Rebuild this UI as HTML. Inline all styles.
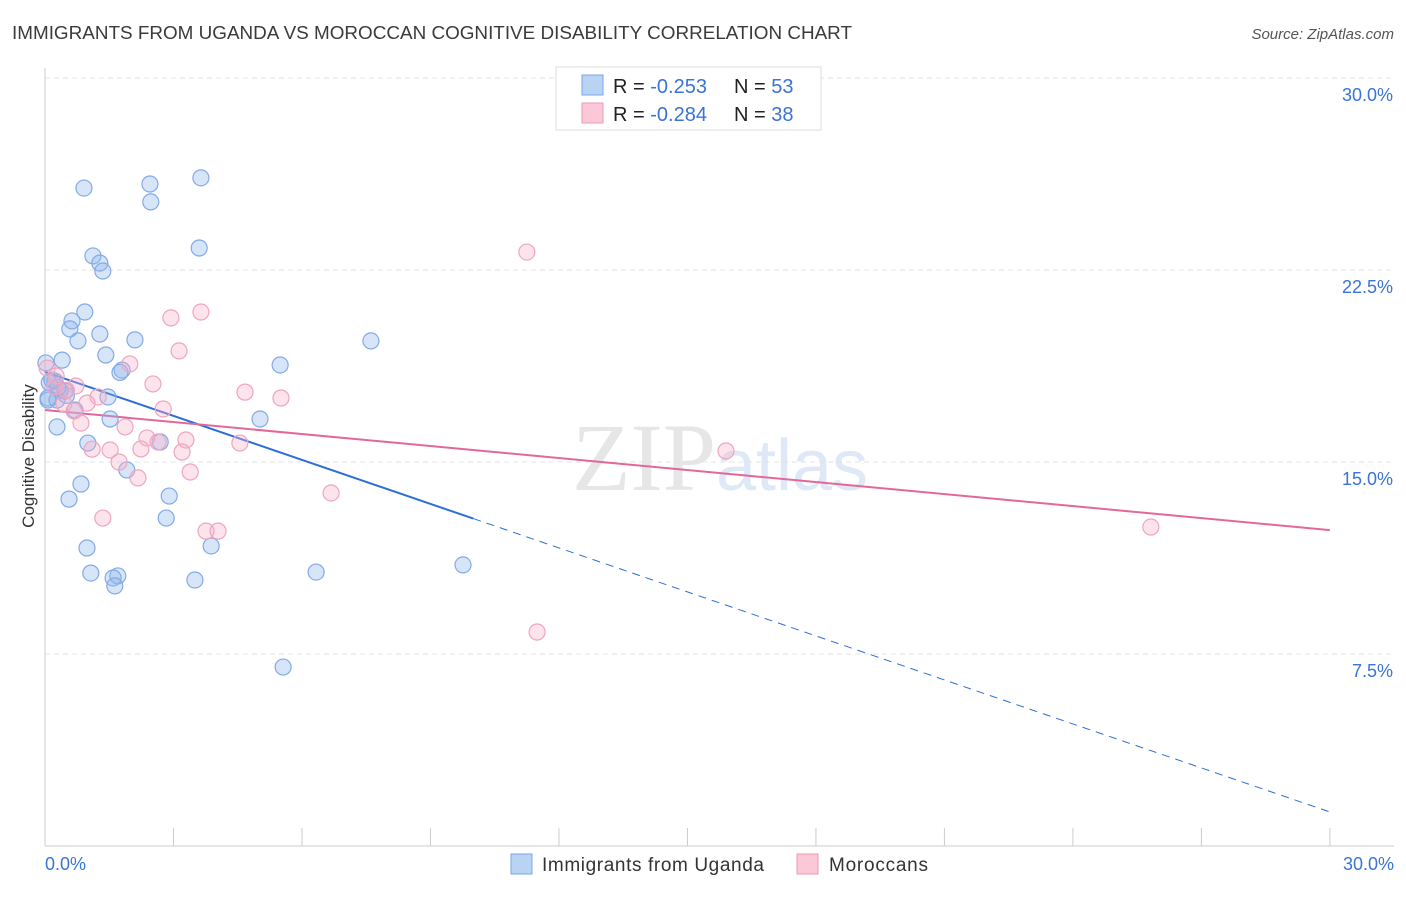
<!DOCTYPE html>
<html><head><meta charset="utf-8"><style>
body{margin:0;background:#fff;font-family:"Liberation Sans",sans-serif;}
</style></head><body>
<svg id="chart" width="1406" height="892" xmlns="http://www.w3.org/2000/svg" font-family="Liberation Sans, sans-serif">
<text x="12" y="39" font-size="18" fill="#3a3a3a" textLength="840" lengthAdjust="spacingAndGlyphs">IMMIGRANTS FROM UGANDA VS MOROCCAN COGNITIVE DISABILITY CORRELATION CHART</text>
<text x="1394" y="39" font-size="15" font-style="italic" fill="#555" text-anchor="end">Source: ZipAtlas.com</text>
<text x="720" y="490" font-size="96" fill="#e6e6e6" text-anchor="middle" font-family="Liberation Serif, serif">ZIP<tspan fill="#dfe8f6" font-family="Liberation Sans, sans-serif" font-size="72">atlas</tspan></text>
<g id="grid"></g><g id="axes"></g><g id="lines"></g><g id="dots"></g>
<text transform="translate(34,456) rotate(-90)" font-size="17" fill="#333" text-anchor="middle">Cognitive Disability</text>
<g>
<rect x="556" y="67" width="265" height="63" fill="#fff" stroke="#ddd"/>
<rect x="582" y="75" width="21" height="20" fill="#b9d3f5" stroke="#7aa6e6"/>
<rect x="582" y="103" width="21" height="20" fill="#fac8d6" stroke="#ee99b4"/>
<text x="613" y="93" font-size="20" fill="#222">R = <tspan fill="#3a74d6">-0.253</tspan><tspan x="734">N = </tspan><tspan fill="#3a74d6">53</tspan></text>
<text x="613" y="121" font-size="20" fill="#222">R = <tspan fill="#3a74d6">-0.284</tspan><tspan x="734">N = </tspan><tspan fill="#3a74d6">38</tspan></text>
</g>
<g>
<rect x="511" y="854" width="21" height="20" fill="#b9d3f5" stroke="#7aa6e6"/>
<text x="542" y="871" font-size="19" fill="#333" textLength="222">Immigrants from Uganda</text>
<rect x="797" y="854" width="21" height="20" fill="#fac8d6" stroke="#ee99b4"/>
<text x="829" y="871" font-size="19" fill="#333" textLength="99">Moroccans</text>
</g>
</svg>
<script>
const yTicks=[7.5,15,22.5,30];
const yTickLabels=["7.5%","15.0%","22.5%","30.0%"];
const xTickLabels=["0.0%","30.0%"];
const blueX=[0.91,2.45,3.64,2.47,3.6,1.12,1.28,1.35,0.93,0.63,0.58,1.28,0.77,2.1,7.61,1.42,0.4,0.02,5.49,1.8,0.23,0.47,0.07,1.47,0.28,0.7,1.52,5.02,0.28,1.0,2.69,1.91,0.84,0.56,2.9,2.83,3.88,0.98,1.07,1.7,1.59,6.33,9.76,1.63,3.5,5.56,0.07,0.16,0.35,1.75,0.1,0.5,0.3];
const blueY=[25.7,25.86,26.1,25.16,23.36,23.05,22.77,22.46,20.86,20.51,20.2,20.0,19.73,19.77,19.73,19.18,18.98,18.87,18.79,18.59,18.16,17.77,17.5,17.54,17.42,17.03,16.68,16.68,16.37,15.74,15.78,14.69,14.14,13.55,13.67,12.81,11.72,11.64,10.66,10.55,10.47,10.7,10.98,10.16,10.39,6.99,17.42,18.2,17.8,18.5,18.1,17.6,17.9];
const pinkX=[11.25,3.64,2.94,3.13,1.98,0.05,0.26,0.23,0.72,2.52,4.67,5.51,1.24,0.44,0.98,0.68,2.76,0.84,1.87,2.38,3.29,2.64,3.2,1.52,2.24,4.55,15.9,1.73,3.39,2.17,6.68,1.35,3.76,4.04,25.82,11.49,0.5,1.1];
const pinkY=[23.2,20.86,20.63,19.34,18.83,18.67,18.36,17.93,17.97,18.05,17.73,17.5,17.54,17.27,17.3,16.99,17.07,16.52,16.37,15.94,15.86,15.78,15.39,15.47,15.51,15.74,15.43,15.0,14.61,14.38,13.79,12.81,12.3,12.3,12.46,8.36,17.8,15.5];
const blueTrend=[18.52,1.33];const pinkTrend=[17.03,12.34];
const X=v=>45+v*42.83, Y=v=>846-v*25.6;
const NS="http://www.w3.org/2000/svg";
function mk(p,t,a){const e=document.createElementNS(NS,t);for(const k in a)e.setAttribute(k,a[k]);document.getElementById(p).appendChild(e);return e;}
yTicks.forEach((t,i)=>{
 const l=mk("grid","line",{x1:45,x2:1394,y1:Y(t),y2:Y(t),stroke:"#e3e3e3","stroke-dasharray":"5,4"});
 
 
 const tx=mk("grid","text",{x:1393,y:Y(t)+23,"font-size":18,fill:"#3a74d6","text-anchor":"end"});tx.textContent=yTickLabels[i];
 
 
});
mk("axes","line",{x1:45,x2:45,y1:68,y2:846,stroke:"#ccc"});
mk("axes","line",{x1:45,x2:1394,y1:846,y2:846,stroke:"#ccc"});
for(let i=0;i<=10;i++){const t=mk("axes","line",{x1:X(i*3),x2:X(i*3),y1:828,y2:846,stroke:"#ccc"});}
[[0,"start",45],[30,"end",1394]].forEach((d,i)=>{const t=mk("axes","text",{x:d[2],y:870,"font-size":18,fill:"#3a74d6","text-anchor":d[1]});t.textContent=xTickLabels[i];
 
 });
const bAt=v=>blueTrend[0]+(blueTrend[1]-blueTrend[0])*v/30;
let l1=mk("lines","line",{x1:X(0),y1:Y(bAt(0)),x2:X(10),y2:Y(bAt(10)),stroke:"#2d6fd6","stroke-width":2});

let l2=mk("lines","line",{x1:X(10),y1:Y(bAt(10)),x2:X(30),y2:Y(bAt(30)),stroke:"#2d6fd6","stroke-width":1,"stroke-dasharray":"8,6"});

let l3=mk("lines","line",{x1:X(0),y1:Y(pinkTrend[0]),x2:X(30),y2:Y(pinkTrend[1]),stroke:"#e3689a","stroke-width":2});

blueX.forEach((v,i)=>{const c=mk("dots","circle",{cx:X(v),cy:Y(blueY[i]),r:8,fill:"rgba(140,180,235,0.35)",stroke:"#82aae6","stroke-width":1.2});
 
 });
pinkX.forEach((v,i)=>{const c=mk("dots","circle",{cx:X(v),cy:Y(pinkY[i]),r:8,fill:"rgba(248,175,200,0.35)",stroke:"#eea5bf","stroke-width":1.2});
 
 });
</script>
</body></html>
